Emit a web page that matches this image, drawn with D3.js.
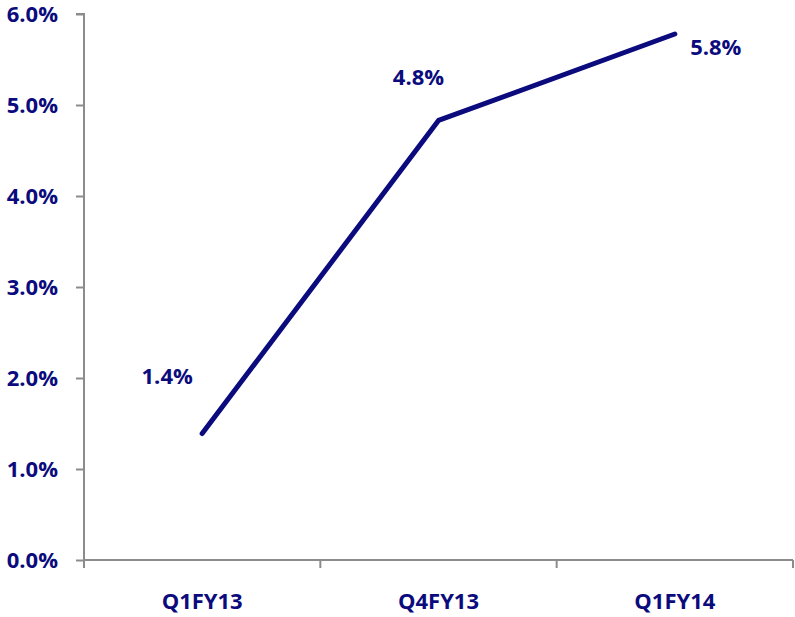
<!DOCTYPE html>
<html>
<head>
<meta charset="utf-8">
<script src="https://cdn.jsdelivr.net/npm/d3@7"></script>
<style>
  html, body { margin: 0; padding: 0; background: #fff; }
  svg { display: block; }
  text { font-family: "Open Sans", "Liberation Sans", sans-serif; font-weight: bold; fill: #0b0b7d; }
</style>
</head>
<body>
<svg id="chart" width="795" height="617"></svg>
<script>
const categories = ["Q1FY13", "Q4FY13", "Q1FY14"];
const values = [1.39, 4.83, 5.78];
const valueLabels = ["1.4%", "4.8%", "5.8%"];
const yTicks = [0, 1, 2, 3, 4, 5, 6];

// label offsets (layout only)
const labelOffsets = [[-35, -57], [-20, -43], [41, 13]];

const svg = d3.select("#chart");
const margin = { left: 84, right: 2, top: 14, bottom: 57 };
const W = 795, H = 617;
const navy = "#0b0b7d";
const axisColor = "#8c8c8c";

const x = d3.scaleBand().domain(categories).range([margin.left, W - margin.right]).padding(0);
const y = d3.scaleLinear().domain([0, 6]).range([H - margin.bottom, margin.top]);

// Y axis
const yAxis = d3.axisLeft(y).tickValues(yTicks).tickSize(8).tickPadding(18)
  .tickFormat(d => d3.format(".1f")(d) + "%");
const gy = svg.append("g").attr("transform", `translate(${margin.left},0)`).call(yAxis);
gy.select(".domain").attr("stroke", axisColor).attr("stroke-width", 2).attr("d", `M-8,${y(6)}H0V${y(0)}`);
gy.selectAll(".tick line").attr("stroke", axisColor).attr("stroke-width", 2);
gy.selectAll(".tick text").style("font-size", "22px").attr("fill", navy).attr("dy", "0.36em");

// X axis with boundary ticks
const gx = svg.append("g").attr("transform", `translate(0,${y(0)})`);
gx.append("line").attr("x1", margin.left).attr("x2", W - margin.right)
  .attr("stroke", axisColor).attr("stroke-width", 2);
const bounds = categories.map(c => x(c)).concat([x(categories[categories.length - 1]) + x.bandwidth()]);
gx.selectAll("line.bt").data(bounds).join("line").attr("class", "bt")
  .attr("x1", d => d).attr("x2", d => d).attr("y1", 0).attr("y2", 8)
  .attr("stroke", axisColor).attr("stroke-width", 2);
gx.selectAll("text.cat").data(categories).join("text").attr("class", "cat")
  .attr("x", d => x(d) + x.bandwidth() / 2).attr("y", 49)
  .attr("text-anchor", "middle").style("font-size", "22px").text(d => d);

// Line
const pts = categories.map((c, i) => [x(c) + x.bandwidth() / 2, y(values[i])]);
svg.append("path").datum(pts)
  .attr("d", d3.line())
  .attr("fill", "none").attr("stroke", navy).attr("stroke-width", 5)
  .attr("stroke-linecap", "round").attr("stroke-linejoin", "round");

// Value labels
svg.selectAll("text.val").data(pts).join("text").attr("class", "val")
  .attr("x", (d, i) => d[0] + labelOffsets[i][0])
  .attr("y", (d, i) => d[1] + labelOffsets[i][1])
  .attr("text-anchor", "middle").attr("dy", "0.36em")
  .style("font-size", "22px").text((d, i) => valueLabels[i]);
</script>
</body>
</html>
